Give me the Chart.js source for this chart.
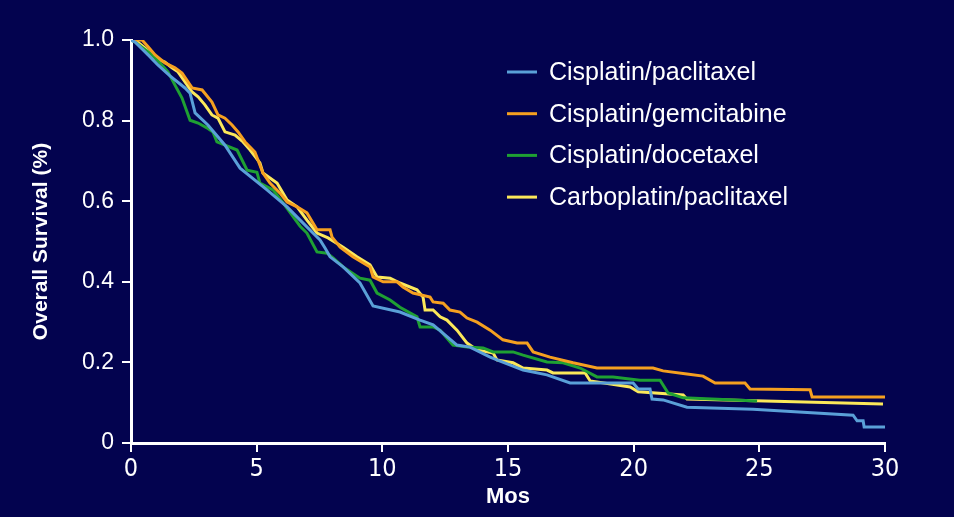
<!DOCTYPE html>
<html>
<head>
<meta charset="utf-8">
<script src="https://cdn.jsdelivr.net/npm/chart.js@4"></script>
<style>
  html, body { margin: 0; padding: 0; background: #03034f; }
  #wrap { width: 954px; height: 517px; }
</style>
</head>
<body>
<div id="wrap"><canvas id="c" width="954" height="517"></canvas></div>
<script>
// ---- Data (months, survival fraction) ----
const seriesNames = ['Cisplatin/paclitaxel', 'Cisplatin/gemcitabine', 'Cisplatin/docetaxel', 'Carboplatin/paclitaxel'];

const cisPacMonths = [0, 0.16, 0.76, 1.07, 1.55, 2.15, 2.35, 2.55, 3.06, 3.74, 4.34, 5.41, 6.21, 6.73, 7.24, 7.52, 7.72, 7.92, 8.44, 9.11, 9.63, 10.70, 11.50, 12.02, 12.97, 13.49, 14.29, 14.56, 15.60, 16.55, 17.47, 19.98, 20.18, 20.65, 20.73, 21.17, 22.12, 24.75, 28.73, 28.89, 29.13, 29.17, 30];
const cisPacSurv   = [1.0, 0.995, 0.958, 0.938, 0.911, 0.881, 0.868, 0.819, 0.789, 0.739, 0.682, 0.628, 0.586, 0.553, 0.521, 0.504, 0.484, 0.462, 0.437, 0.397, 0.340, 0.325, 0.305, 0.293, 0.243, 0.238, 0.213, 0.206, 0.181, 0.169, 0.149, 0.149, 0.134, 0.134, 0.109, 0.107, 0.089, 0.084, 0.069, 0.055, 0.055, 0.040, 0.040];

const cisGemMonths = [0, 0.44, 0.68, 0.96, 1.35, 1.75, 2.03, 2.43, 2.83, 3.22, 3.46, 3.74, 4.02, 4.26, 4.54, 4.93, 5.25, 5.53, 5.93, 6.21, 6.61, 7.00, 7.40, 7.92, 8.00, 8.32, 8.83, 9.51, 9.63, 10.03, 10.59, 10.82, 11.22, 11.90, 12.02, 12.42, 12.69, 13.09, 13.37, 13.77, 14.29, 14.80, 15.36, 15.76, 16.00, 16.67, 17.59, 18.54, 20.77, 21.17, 22.12, 22.76, 23.24, 24.43, 24.63, 27.02, 27.10, 30];
const cisGemSurv   = [1.0, 1.0, 0.983, 0.963, 0.943, 0.931, 0.918, 0.881, 0.876, 0.846, 0.814, 0.806, 0.789, 0.772, 0.747, 0.722, 0.670, 0.645, 0.620, 0.598, 0.586, 0.571, 0.529, 0.529, 0.511, 0.486, 0.462, 0.437, 0.412, 0.400, 0.400, 0.387, 0.372, 0.362, 0.350, 0.347, 0.330, 0.325, 0.310, 0.300, 0.280, 0.256, 0.248, 0.248, 0.226, 0.213, 0.199, 0.186, 0.186, 0.179, 0.171, 0.166, 0.149, 0.149, 0.134, 0.132, 0.114, 0.114];

const cisDocMonths = [0, 0.16, 0.84, 1.23, 1.47, 1.75, 2.03, 2.35, 2.67, 3.02, 3.26, 3.42, 3.74, 4.22, 4.62, 5.01, 5.13, 5.65, 6.05, 6.73, 7.00, 7.40, 7.80, 8.04, 8.44, 9.11, 9.51, 9.79, 10.31, 10.70, 11.38, 11.50, 12.02, 12.30, 12.81, 13.37, 14.01, 14.41, 15.20, 15.60, 16.55, 17.19, 17.87, 18.54, 19.18, 20.25, 21.05, 21.37, 21.97, 24.91];
const cisDocSurv   = [1.0, 0.995, 0.963, 0.938, 0.921, 0.888, 0.856, 0.801, 0.794, 0.782, 0.772, 0.747, 0.739, 0.727, 0.677, 0.672, 0.645, 0.628, 0.596, 0.538, 0.521, 0.474, 0.471, 0.459, 0.437, 0.409, 0.404, 0.372, 0.355, 0.337, 0.313, 0.288, 0.288, 0.280, 0.243, 0.238, 0.236, 0.226, 0.226, 0.218, 0.201, 0.199, 0.186, 0.164, 0.164, 0.156, 0.156, 0.124, 0.112, 0.104];

const carPacMonths = [0, 0.16, 0.56, 0.96, 1.35, 1.63, 1.87, 2.15, 2.43, 2.67, 2.94, 3.22, 3.46, 3.74, 4.14, 4.46, 4.74, 5.13, 5.25, 5.81, 6.21, 6.61, 7.00, 7.40, 7.84, 8.44, 8.99, 9.51, 9.79, 10.31, 10.70, 11.38, 11.62, 11.70, 12.02, 12.30, 12.57, 12.97, 13.37, 13.77, 14.41, 14.56, 15.20, 15.60, 16.55, 16.79, 18.07, 18.27, 19.86, 20.18, 21.97, 22.12, 29.92];
const carPacSurv   = [1.0, 1.0, 0.980, 0.955, 0.945, 0.931, 0.921, 0.896, 0.871, 0.859, 0.839, 0.814, 0.806, 0.772, 0.764, 0.747, 0.727, 0.695, 0.670, 0.645, 0.603, 0.586, 0.553, 0.521, 0.509, 0.486, 0.462, 0.442, 0.412, 0.409, 0.397, 0.380, 0.362, 0.330, 0.330, 0.313, 0.305, 0.280, 0.248, 0.231, 0.223, 0.206, 0.199, 0.186, 0.181, 0.174, 0.174, 0.154, 0.139, 0.127, 0.119, 0.109, 0.097];

const xTickLabels = ['0', '5', '10', '15', '20', '25', '30'];
const yTickLabels = ['0', '0.2', '0.4', '0.6', '0.8', '1.0'];

const seriesColors = ['#5aa0d8', '#f5a020', '#1fa033', '#fbe85a'];

function pts(xs, ys) { return xs.map((x, i) => ({ x: x, y: ys[i] })); }
const seriesData = [
  pts(cisPacMonths, cisPacSurv),
  pts(cisGemMonths, cisGemSurv),
  pts(cisDocMonths, cisDocSurv),
  pts(carPacMonths, carPacSurv)
];

const FONT = '"Liberation Sans", Arial, sans-serif';

const legendPlugin = {
  id: 'customLegend',
  afterDatasetsDraw(chart) {
    const ctx = chart.ctx;
    ctx.save();
    ctx.font = '25px ' + FONT;
    ctx.textBaseline = 'middle';
    ctx.fillStyle = '#ffffff';
    chart.data.datasets.forEach((ds, i) => {
      const y = 72 + i * 41.7;
      ctx.strokeStyle = ds.borderColor;
      ctx.lineWidth = 3;
      ctx.beginPath();
      ctx.moveTo(507, y);
      ctx.lineTo(537, y);
      ctx.stroke();
      ctx.fillText(ds.label, 549, y + 1);
    });
    ctx.restore();
  }
};

new Chart(document.getElementById('c'), {
  type: 'line',
  data: {
    datasets: seriesNames.map((n, i) => ({
      label: n,
      data: seriesData[i],
      borderColor: seriesColors[i],
      backgroundColor: seriesColors[i],
      borderWidth: 3,
      pointRadius: 0,
      tension: 0,
      fill: false
    }))
  },
  options: {
    responsive: false,
    animation: false,
    layout: { padding: { top: 40, right: 69, left: 0, bottom: 0 } },
    plugins: { legend: { display: false }, tooltip: { enabled: false } },
    scales: {
      x: {
        type: 'linear',
        min: 0, max: 30,
        afterFit(s) { s.height = 74; },
        border: { display: true, color: '#ffffff', width: 3 },
        grid: { drawOnChartArea: false, drawTicks: true, tickLength: 9, color: '#ffffff', lineWidth: 2 },
        ticks: {
          stepSize: 5,
          padding: 2,
          color: '#ffffff',
          font: { family: '"Liberation Sans Narrow", "DejaVu Sans Condensed", Arial, sans-serif', size: 25 },
          callback: (v) => xTickLabels[Math.round(v / 5)]
        },
        title: {
          display: true, text: 'Mos', color: '#ffffff',
          font: { family: FONT, size: 22, weight: 'bold' },
          padding: { top: 0, bottom: 7 }
        }
      },
      y: {
        type: 'linear',
        min: 0, max: 1,
        afterFit(s) { s.width = 131; },
        border: { display: true, color: '#ffffff', width: 3 },
        grid: { drawOnChartArea: false, drawTicks: true, tickLength: 9, color: '#ffffff', lineWidth: 2 },
        ticks: {
          stepSize: 0.2,
          padding: 8,
          color: '#ffffff',
          font: { family: FONT, size: 23 },
          callback: (v) => yTickLabels[Math.round(v / 0.2)]
        },
        title: {
          display: true, text: 'Overall Survival (%)', color: '#ffffff',
          font: { family: FONT, size: 21, weight: 'bold' },
          padding: { top: 29, bottom: 0 }
        }
      }
    }
  },
  plugins: [legendPlugin]
});
</script>
</body>
</html>
